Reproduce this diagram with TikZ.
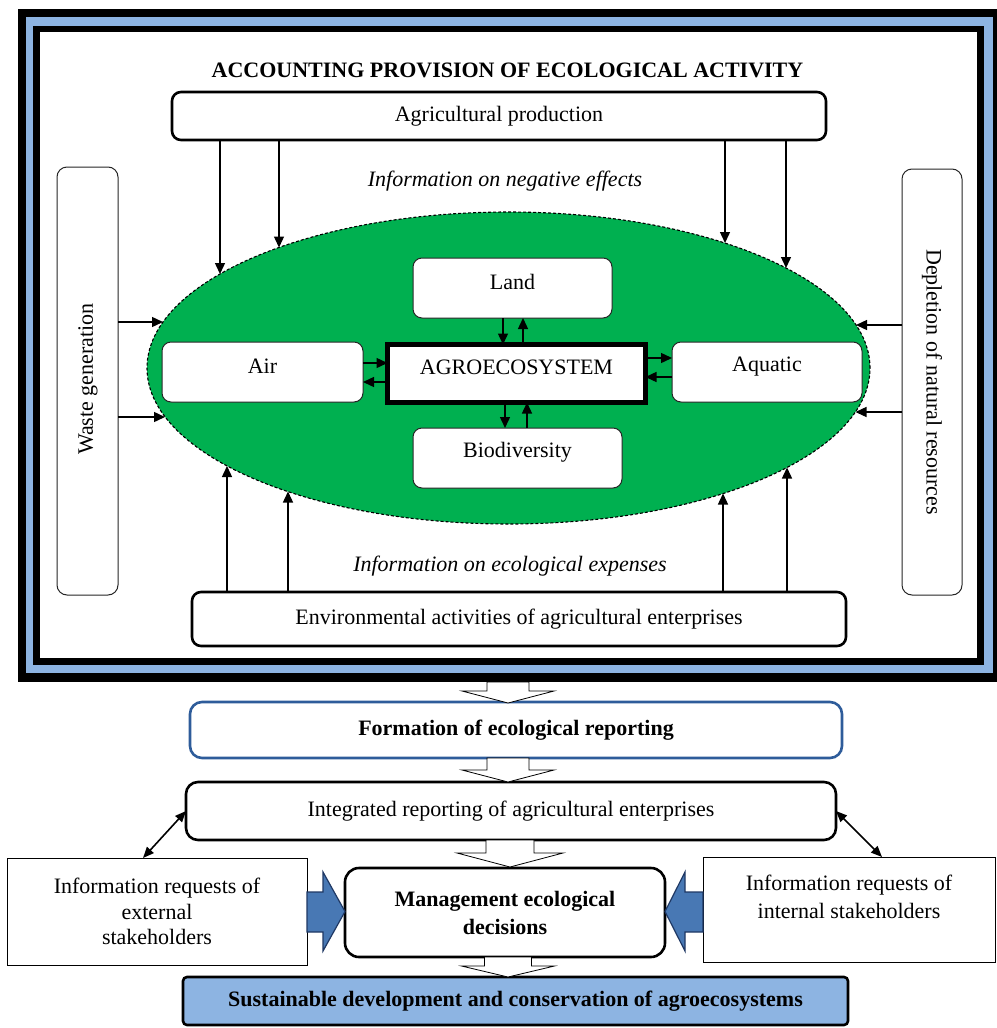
\documentclass[tikz,border=0pt]{standalone}
\usepackage{fontspec}
\setmainfont{Liberation Serif}
\usetikzlibrary{arrows.meta,shapes.geometric,calc}
\definecolor{frameblue}{RGB}{141,180,226}
\definecolor{eco}{RGB}{0,176,80}
\definecolor{formblue}{RGB}{46,92,154}
\definecolor{blockblue}{RGB}{72,120,180}
\definecolor{blockedge}{RGB}{31,56,100}
\definecolor{sustblue}{RGB}{141,180,226}
\newcommand\hollowarrow[6]{%
  \draw[line width=0.8pt, fill=white] (#1-#5,#2) -- (#1+#5,#2) -- (#1+#5,#3) -- (#1+#6,#3) -- (#1,#4) -- (#1-#6,#3) -- (#1-#5,#3) -- cycle;}
\begin{document}
\begin{tikzpicture}[x=1pt,y=-1pt,
  every node/.style={font=\fontsize{22}{26}\selectfont, inner sep=0pt, outer sep=0pt},
  thickbox/.style={draw, line width=2.6pt, rounded corners=9pt, fill=white},
  thinbox/.style={draw=black!85, line width=1pt, rounded corners=9pt, fill=white},
  plainbox/.style={draw, line width=0.9pt, fill=white},
  boxtext/.style 2 args={label={[yshift=#1]center:#2}},
  conn/.style={line width=1.4pt, -{Triangle[length=11pt,width=10pt]}},
  dconn/.style={line width=1.6pt, {Triangle[length=11pt,width=9pt]}-{Triangle[length=11pt,width=9pt]}},
  blockarrow/.style={fill=blockblue, draw=blockedge, line width=1.2pt, line join=miter},
]
\useasboundingbox (0,0) rectangle (996,1028);
\fill[white] (0,0) rectangle (996,1028);

% outer frame
\fill[black] (18,9) rectangle (1001,682);
\fill[frameblue] (26,17) rectangle (993,673);
\fill[black] (33,26) rectangle (984,665);
\fill[white] (40,32) rectangle (977,658);

\node[font=\fontsize{22}{26}\selectfont\bfseries] (title) at (507.5,70) {ACCOUNTING PROVISION OF ECOLOGICAL ACTIVITY};

\node[thickbox, minimum width=654, minimum height=48] (ap) at (499,116) {Agricultural production};
\node[font=\fontsize{22}{26}\selectfont\itshape] (neg) at (505,181) {Information on negative effects};

\node[ellipse, draw, fill=eco, dash pattern=on 3pt off 2pt, line width=1.1pt,
      minimum width=723, minimum height=312] (ell) at (508.5,368) {};

\node[thinbox, minimum width=199, minimum height=60, boxtext={6pt}{Land}] (land) at (512.5,288) {};
\node[draw, line width=5pt, fill=white, minimum width=258, minimum height=58, boxtext={6pt}{AGROECOSYSTEM}] (agro) at (516.5,373.5) {};
\node[thinbox, minimum width=209, minimum height=60, boxtext={6pt}{Biodiversity}] (bio) at (517.5,458) {};
\node[thinbox, minimum width=201, minimum height=60, boxtext={6pt}{Air}] (air) at (262.5,372) {};
\node[thinbox, minimum width=190, minimum height=60, boxtext={5pt}{Aquatic}] (aqua) at (767,372) {};

\node[thinbox, rounded corners=10pt, minimum width=61, minimum height=428] (waste) at (87.5,381) {};
\node[rotate=90] (wastet) at (88,379) {Waste generation};
\node[thinbox, rounded corners=10pt, minimum width=60, minimum height=426] (depl) at (932,382) {};
\node[rotate=-90] (deplt) at (932,382) {Depletion of natural resources};

\node[font=\fontsize{22}{26}\selectfont\itshape] (exp) at (510,566) {Information on ecological expenses};
\node[thickbox, minimum width=654, minimum height=54] (env) at (519,619) {Environmental activities of agricultural enterprises};

% connectors around ellipse
\draw[conn] (ap.south -| 220,0) -- (220,274);
\draw[conn] (ap.south -| 279,0) -- (279,247.5);
\draw[conn] (ap.south -| 725,0) -- (725,243);
\draw[conn] (ap.south -| 786,0) -- (786,268);
\draw[conn] (env.north -| 227,0) -- (227,466);
\draw[conn] (env.north -| 288,0) -- (288,491.5);
\draw[conn] (env.north -| 723,0) -- (723,493.5);
\draw[conn] (env.north -| 787,0) -- (787,467.5);
\draw[conn] (waste.east |- 0,322) -- (163,322);
\draw[conn] (waste.east |- 0,417) -- (165,417);
\draw[conn] (depl.west |- 0,325) -- (856,325);
\draw[conn] (depl.west |- 0,412) -- (855.5,412);

% inner connectors
\draw[conn] (land.south -| 503,0) -- (agro.north -| 503,0);
\draw[conn] (agro.north -| 523,0) -- (land.south -| 523,0);
\draw[conn] (agro.south -| 505,0) -- (bio.north -| 505,0);
\draw[conn] (bio.north -| 527,0) -- (agro.south -| 527,0);
\draw[conn] (air.east |- 0,363) -- (agro.west |- 0,363);
\draw[conn] (agro.west |- 0,382) -- (air.east |- 0,382);
\draw[conn] (agro.east |- 0,358) -- (aqua.west |- 0,358);
\draw[conn] (aqua.west |- 0,377) -- (agro.east |- 0,377);

% lower part
\node[draw=formblue, line width=2.6pt, rounded corners=12pt, fill=white, minimum width=652, minimum height=56,
      font=\fontsize{22}{26}\selectfont\bfseries] (form) at (516,730) {Formation of ecological reporting};
\node[thickbox, rounded corners=12pt, minimum width=650, minimum height=58] (integ) at (511,811) {Integrated reporting of agricultural enterprises};
\node[thickbox, rounded corners=14pt, minimum width=320, minimum height=89, align=center,
      font=\fontsize{22}{28}\selectfont\bfseries] (mgmt) at (505,912.5) {Management ecological\\decisions};
\node[plainbox, minimum width=300, minimum height=107, align=center,
      font=\fontsize{22}{25.5}\selectfont] (ext) at (157,911.5) {Information requests of\\external\\stakeholders};
\node[plainbox, minimum width=292, minimum height=105,
      label={[yshift=13pt, align=center, font=\fontsize{22}{28}\selectfont]center:Information requests of\\internal stakeholders}] (int) at (849,909.5) {};
\node[draw, line width=2.6pt, rounded corners=4pt, fill=sustblue, minimum width=665, minimum height=48,
      font=\fontsize{22}{26}\selectfont\bfseries] (sust) at (515.5,1001) {Sustainable development and conservation of agroecosystems};

\hollowarrow{508}{682}{691}{703}{21}{46}
\hollowarrow{508}{758}{770}{782}{21}{46}
\hollowarrow{510}{840}{853}{867}{24}{53}
\hollowarrow{508}{957}{966}{977}{23.5}{46.5}

\draw[blockarrow] (ext.east |- 0,892) -- (323,892) -- (323,872) -- (mgmt.west |- 0,911.5) -- (323,951) -- (323,932) -- (ext.east |- 0,932) -- cycle;
\draw[blockarrow] (int.west |- 0,892) -- (685,892) -- (685,872) -- (mgmt.east |- 0,911.5) -- (685,951) -- (685,932) -- (int.west |- 0,932) -- cycle;

\draw[dconn] (ext.north -| 143,0) -- (integ.west);
\draw[dconn] (integ.east) -- (int.north -| 882,0);
\end{tikzpicture}
\end{document}
